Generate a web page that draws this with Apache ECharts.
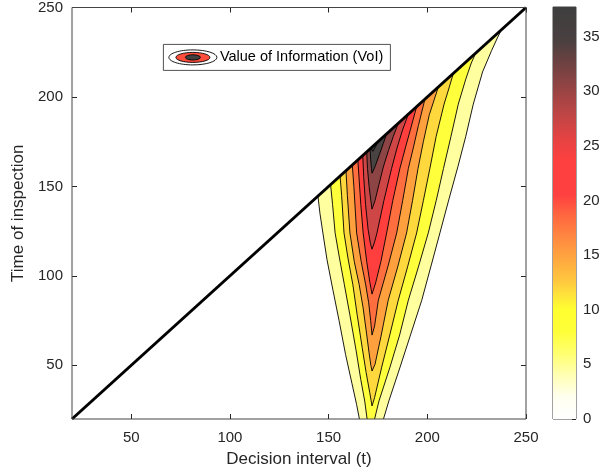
<!DOCTYPE html>
<html><head><meta charset="utf-8">
<script src="https://cdn.jsdelivr.net/npm/echarts@6/dist/echarts.min.js"></script>
<style>html,body{margin:0;padding:0;background:#fff}#c{width:611px;height:474px}</style>
</head><body><div id="c"></div>
<script>
// ---------- data ----------
const xRange = [20, 250];
const yRange = [20, 250];
const vRange = [0, 37.7];              // colour bar range (VoI)
const xTicks = [50, 100, 150, 200, 250];
const yTicks = [50, 100, 150, 200, 250];
const cbTicks = [0, 5, 10, 15, 20, 25, 30, 35];
const legendLabel = 'Value of Information (VoI)';
const diagLine = [[20, 20], [250, 250]];

// contour boundaries (decision interval, time of inspection), lowest level first
const L1_left  = [[144.6,144.6],[145.6,135],[147.1,124],[149.2,109],[152.2,92],[155.3,75],[158.6,56],[161.8,40],[164.2,28],[165.6,20]];
const L1_right = [[177.8,20],[180.5,30],[186.2,49],[191.5,67],[197.2,86.4],[202,106],[206.4,124],[211,143],[215.5,161],[219.5,178],[223.3,196],[228,214],[232.6,226],[235.5,233],[237.5,237.5]];
const L2_left  = [[151,151],[152,140],[153.3,124],[155.5,110],[158,95],[160.8,78],[163.9,58.5],[166.3,42],[168.3,30],[169.5,20]];
const L2_right = [[173.3,20],[175.5,30],[181.1,49],[186,67],[190.4,86.4],[195.5,105],[200.5,124],[204.5,142],[208.2,160],[212,178],[215.7,196],[219.5,210],[222.3,219],[224.5,224.5]];
const L3_left  = [[155.8,155.8],[156.6,145],[157.8,124],[159.8,110],[162.3,95],[164.5,78],[167,60],[169,46],[170.8,35],[172,27.3]];
const L3_right = [[172,27.3],[173.3,32],[176.9,49],[181,67],[185.3,86.4],[190,105],[194.6,124],[198,142],[201.3,160],[204.5,178],[208.5,196],[211,205],[213.2,213.2]];
const L4_left  = [[158.8,158.8],[159.5,145],[160.8,124],[163,108],[165.5,95],[167.5,82],[169.2,68],[170.5,57],[171.4,50],[172,46.8]];
const L4_right = [[172,46.8],[173.5,50.5],[176.5,66],[180.2,86.4],[185,105],[189.5,124],[192.5,142],[195.3,160],[198,175],[201,190],[205.6,205.6]];
const L5_left  = [[162,162],[162.8,150],[164.2,124],[166.5,108],[168.8,95],[170.3,85],[171.3,75],[172,66.9]];
const L5_right = [[172,66.9],[173.3,72],[175.2,86.4],[180,105],[184.5,124],[187.5,142],[190.4,160],[193,172],[195.5,184],[198.8,198.8]];
const L6_left  = [[164.8,164.8],[165.4,155],[166.3,140],[167.5,124],[169.3,108],[170.8,97],[172,89.8]];
const L6_right = [[172,89.8],[173.8,96],[176.5,108],[179.4,124],[182.5,142],[186.1,160],[189,172],[191.5,182],[194.6,194.6]];
const L7_left  = [[167.3,167.3],[167.8,155],[168.7,140],[170,126],[171.2,118],[172,114.9]];
const L7_right = [[172,114.9],[173.3,119],[174.5,124],[178,142],[181.9,160],[184.8,172],[187.3,181],[190.4,190.4]];
const L8_left  = [[169.3,169.3],[169.7,160],[170.5,150],[171.4,142],[172,137.3]];
const L8_right = [[172,137.3],[173.5,142],[175.5,151],[177.7,160.8],[180.3,170],[182.8,178],[185.3,185.3]];
const L9_left  = [[171,171],[171.3,165],[171.7,160],[172,157.4]];
const L9_right = [[172,157.4],[173.5,161],[175.8,168],[177.7,174],[179.4,179.4]];
const L10_left = [[171.3,171.3],[171.9,170.5],[172.4,169.6]];
const L10_right= [[172.4,169.6],[173.7,172],[175,175]];

const levelLefts  = [L1_left, L2_left, L3_left, L4_left, L5_left, L6_left, L7_left, L8_left, L9_left, L10_left];
const levelRights = [L1_right, L2_right, L3_right, L4_right, L5_right, L6_right, L7_right, L8_right, L9_right, L10_right];

// ---------- styles ----------
const bandColors = ['#ffffa0','#ffff3c','#ffd83e','#ffa03f','#ff6e3e','#ff3e3e','#cf4646','#8d4444','#484242','#3c3c3c'];
const cmapStops = [[0,'#ffffff'],[2,'#fffff0'],[4,'#ffffb4'],[6,'#ffff70'],[8,'#ffff38'],[10,'#ffff30'],[11.5,'#ffe03c'],[12.6,'#ffc83e'],[14.6,'#ffa840'],[16.5,'#ff8a40'],[18.8,'#ff6440'],[20.5,'#ff4040'],[23.5,'#ff4040'],[25.5,'#e84242'],[27.6,'#c44545'],[30,'#9a4444'],[32.8,'#6a4141'],[34.6,'#4a4040'],[37.7,'#3e3e3e']];
const FONT = '"Liberation Sans", Arial, Helvetica, sans-serif';
const AX = '#262626';

const chart = echarts.init(document.getElementById('c'), null, {renderer: 'canvas', width: 611, height: 474});

function contourItem(params, api) {
  const i = params.dataIndex;
  const L = levelLefts[i].map(p => api.coord(p));
  const R = levelRights[i].map(p => api.coord(p));
  const kids = [{type: 'polygon', z2: i, shape: {points: L.concat(R)}, style: {fill: bandColors[i], stroke: null}}];
  const lineStyle = {stroke: '#000', lineWidth: 0.9, fill: null};
  const lastL = levelLefts[i][levelLefts[i].length - 1], firstR = levelRights[i][0];
  if (lastL[0] === firstR[0] && lastL[1] === firstR[1]) {
    kids.push({type: 'polyline', z2: 100 + i, shape: {points: L.concat(R.slice(1))}, style: lineStyle});
  } else {
    kids.push({type: 'polyline', z2: 100 + i, shape: {points: L}, style: lineStyle});
    kids.push({type: 'polyline', z2: 100 + i, shape: {points: R}, style: lineStyle});
  }
  return {type: 'group', children: kids};
}

function colorbarItem(params, api) {
  const p0 = api.coord([0, vRange[0]]);
  const p1 = api.coord([1, vRange[1]]);
  const stops = cmapStops.map(s => ({offset: (s[0] - vRange[0]) / (vRange[1] - vRange[0]), color: s[1]}));
  return {type: 'rect', shape: {x: p0[0], y: p1[1], width: p1[0] - p0[0], height: p0[1] - p1[1]},
          style: {fill: new echarts.graphic.LinearGradient(0, 1, 0, 0, stops), stroke: null}};
}

const tickStyle = {color: AX, width: 1};
const lblStyle = {fontSize: 15, color: AX, fontFamily: FONT};
const nameStyle = {fontSize: 17, color: AX, fontFamily: FONT};

const option = {
  animation: false,
  backgroundColor: '#ffffff',
  grid: [
    {left: 72, top: 7, width: 454, height: 412, show: true, borderColor: '#444444', borderWidth: 1, backgroundColor: 'transparent', z: 10},
    {left: 553, top: 7, width: 23, height: 412, show: true, borderColor: '#444444', borderWidth: 1, backgroundColor: 'transparent'}
  ],
  xAxis: [
    {gridIndex: 0, type: 'value', min: xRange[0], max: xRange[1], position: 'bottom',
     name: 'Decision interval (t)', nameLocation: 'middle', nameGap: 32, nameTextStyle: nameStyle,
     axisLine: {show: false, onZero: false}, splitLine: {show: false},
     axisTick: {show: true, inside: true, length: 5, customValues: xTicks, lineStyle: tickStyle},
     axisLabel: Object.assign({customValues: xTicks, margin: 11}, lblStyle)},
    {gridIndex: 0, type: 'value', min: xRange[0], max: xRange[1], position: 'top',
     axisLine: {show: false, onZero: false}, splitLine: {show: false},
     axisTick: {show: true, inside: true, length: 5, customValues: xTicks, lineStyle: tickStyle},
     axisLabel: {show: false}},
    {gridIndex: 1, type: 'value', min: 0, max: 1, show: false}
  ],
  yAxis: [
    {gridIndex: 0, type: 'value', min: yRange[0], max: yRange[1], position: 'left',
     name: 'Time of inspection', nameLocation: 'middle', nameGap: 41, nameRotate: 90, nameTextStyle: nameStyle,
     axisLine: {show: false, onZero: false}, splitLine: {show: false},
     axisTick: {show: true, inside: true, length: 5, customValues: yTicks, lineStyle: tickStyle},
     axisLabel: Object.assign({customValues: yTicks, margin: 9}, lblStyle)},
    {gridIndex: 0, type: 'value', min: yRange[0], max: yRange[1], position: 'right',
     axisLine: {show: false, onZero: false}, splitLine: {show: false},
     axisTick: {show: true, inside: true, length: 5, customValues: yTicks, lineStyle: tickStyle},
     axisLabel: {show: false}},
    {gridIndex: 1, type: 'value', min: vRange[0], max: vRange[1], position: 'right',
     axisLine: {show: false, onZero: false}, splitLine: {show: false},
     axisTick: {show: true, inside: true, length: 4, customValues: cbTicks, lineStyle: tickStyle},
     axisLabel: Object.assign({customValues: cbTicks, margin: 7}, lblStyle)}
  ],
  series: [
    {type: 'custom', name: 'VoI', xAxisIndex: 0, yAxisIndex: 0, clip: true,
     data: levelLefts.map((_, i) => [xRange[0], yRange[0]]),
     renderItem: contourItem, z: 2, silent: true},
    {type: 'line', xAxisIndex: 0, yAxisIndex: 0, data: diagLine, symbol: 'none', clip: true,
     lineStyle: {color: '#000', width: 3}, z: 5, silent: true},
    {type: 'custom', xAxisIndex: 2, yAxisIndex: 2, data: [[0, vRange[0]]],
     renderItem: colorbarItem, z: 1, silent: true}
  ],
  graphic: [
    {type: 'group', left: 163, top: 44, z: 100, children: [
      {type: 'rect', shape: {x: 0.5, y: 0.5, width: 227, height: 26}, style: {fill: '#fff', stroke: AX, lineWidth: 0.8}},
      {type: 'ellipse', shape: {cx: 30, cy: 13.5, rx: 24, ry: 7.5}, style: {fill: '#fff', stroke: '#000', lineWidth: 0.9}},
      {type: 'ellipse', shape: {cx: 30, cy: 13.5, rx: 17, ry: 5}, style: {fill: '#ff4e3c', stroke: '#000', lineWidth: 0.9}},
      {type: 'ellipse', shape: {cx: 30, cy: 13.5, rx: 7.5, ry: 2.6}, style: {fill: '#404040', stroke: '#000', lineWidth: 0.9}},
      {type: 'text', x: 57, y: 13.5, style: {text: legendLabel, fontSize: 14.5, fontFamily: FONT, fill: '#000', verticalAlign: 'middle', align: 'left'}}
    ]}
  ]
};
chart.setOption(option);
</script>
</body></html>
